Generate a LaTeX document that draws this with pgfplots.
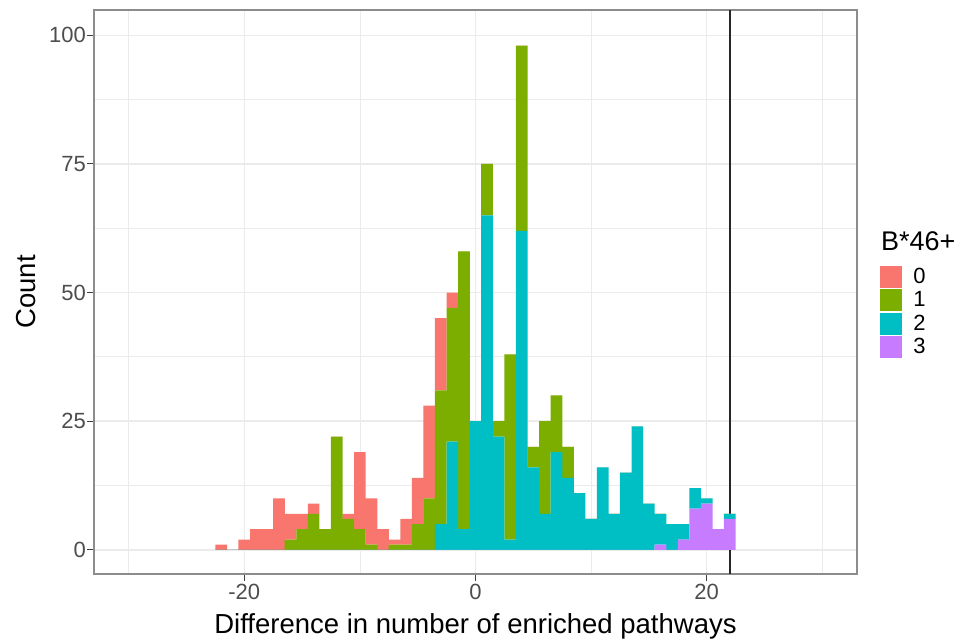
\documentclass[border=0pt]{standalone}
\usepackage{fontspec}
\setmainfont{Liberation Sans}
\usepackage{pgfplots}
\pgfplotsset{compat=1.18}
\usepackage{pgfplotstable}
\definecolor{c0}{HTML}{F8766D}
\definecolor{c1}{HTML}{7CAE00}
\definecolor{c2}{HTML}{00BFC4}
\definecolor{c3}{HTML}{C77CFF}
\definecolor{gridc}{HTML}{EBEBEB}
\definecolor{tickc}{HTML}{4D4D4D}

\pgfplotstableread{
x c0 c1 c2 c3
-22 1 0 0 0
-21 0 0 0 0
-20 2 0 0 0
-19 4 0 0 0
-18 4 0 0 0
-17 10 0 0 0
-16 5 2 0 0
-15 3 4 0 0
-14 2 7 0 0
-13 0 4 0 0
-12 0 22 0 0
-11 1 6 0 0
-10 15 4 0 0
-9 9 1 0 0
-8 4 0 0 0
-7 1 1 0 0
-6 5 1 0 0
-5 9 5 0 0
-4 18 10 0 0
-3 14 26 5 0
-2 3 26 21 0
-1 0 54 4 0
0 0 0 25 0
1 0 10 65 0
2 0 3 22 0
3 0 36 2 0
4 0 36 62 0
5 0 4 16 0
6 0 18 7 0
7 0 11 19 0
8 0 6 14 0
9 0 0 11 0
10 0 0 6 0
11 0 0 16 0
12 0 0 7 0
13 0 0 15 0
14 0 0 24 0
15 0 0 9 0
16 0 0 6 1
17 0 0 5 0
18 0 0 3 2
19 0 0 4 8
20 0 0 1 9
21 0 0 0 4
22 0 0 1 6
}\hist

\begin{document}
\begin{tikzpicture}
\begin{axis}[
  name=ax,
  scale only axis, width=763pt, height=564pt,
  xmin=-33, xmax=33, ymin=-4.7, ymax=104.9,
  stack plots=y,
  xtick={-20,0,20}, xticklabels={-20,0,20},
  ytick={0,25,50,75,100}, yticklabels={0,25,50,75,100},
  minor xtick={-30,-10,10,30},
  minor ytick={12.5,37.5,62.5,87.5},
  grid=both,
  major grid style={gridc, line width=1.4pt},
  minor grid style={gridc, line width=0.7pt},
  tick align=outside,
  major tick length=7pt, minor tick length=0pt,
  xtick pos=bottom, ytick pos=left,
  tick style={black!75, line width=1pt},
  axis line style={black!45, line width=1.2pt},
  ticklabel style={font=\fontsize{22}{26}\selectfont, text=tickc},
  xticklabel style={anchor=north, inner sep=0pt, yshift=-3pt},
  yticklabel style={anchor=east, inner sep=0pt, xshift=-1pt},
  xlabel={Difference in number of enriched pathways},
  ylabel={Count},
  every axis x label/.style={at={(axis description cs:0.5,0)}, anchor=base, yshift=-59pt, inner sep=0pt, font=\fontsize{27.5}{32}\selectfont},
  every axis y label/.style={at={(axis description cs:0,0.5)}, xshift=-58pt, rotate=90, anchor=base, inner sep=0pt, font=\fontsize{27.5}{32}\selectfont},
  legend style={draw=none, fill=none, at={(axis description cs:1.0301,0.5461)}, anchor=north west, inner sep=0pt, outer sep=0pt, row sep=2pt, column sep=11pt, nodes={inner sep=1pt, font=\fontsize{22}{26}\selectfont}},
  legend cell align=left,
]
\addlegendimage{legend image code/.code={\fill[c0] (0pt,-10.5pt) rectangle (21pt,10.5pt);}}
\addlegendentry{0}
\addlegendimage{legend image code/.code={\fill[c1] (0pt,-10.5pt) rectangle (21pt,10.5pt);}}
\addlegendentry{1}
\addlegendimage{legend image code/.code={\fill[c2] (0pt,-10.5pt) rectangle (21pt,10.5pt);}}
\addlegendentry{2}
\addlegendimage{legend image code/.code={\fill[c3] (0pt,-10.5pt) rectangle (21pt,10.5pt);}}
\addlegendentry{3}
\addplot[ybar, bar width=1.01, bar shift=0pt, fill=c3, draw=none] table[x=x, y=c3] {\hist};
\addplot[ybar, bar width=1.01, bar shift=0pt, fill=c2, draw=none] table[x=x, y=c2] {\hist};
\addplot[ybar, bar width=1.01, bar shift=0pt, fill=c1, draw=none] table[x=x, y=c1] {\hist};
\addplot[ybar, bar width=1.01, bar shift=0pt, fill=c0, draw=none] table[x=x, y=c0] {\hist};
\draw[black!85, line width=1.4pt] (axis cs:22,-4.7) -- (axis cs:22,104.9);
\end{axis}
\node[anchor=base west, inner sep=0pt, font=\fontsize{27}{32}\selectfont] at ([xshift=24pt,yshift=-240.5pt]ax.north east) {B*46+};
\pgfresetboundingbox
\path[use as bounding box] ([xshift=-94pt,yshift=-66pt]ax.south west) rectangle ([xshift=101pt,yshift=10pt]ax.north east);
\end{tikzpicture}
\end{document}
